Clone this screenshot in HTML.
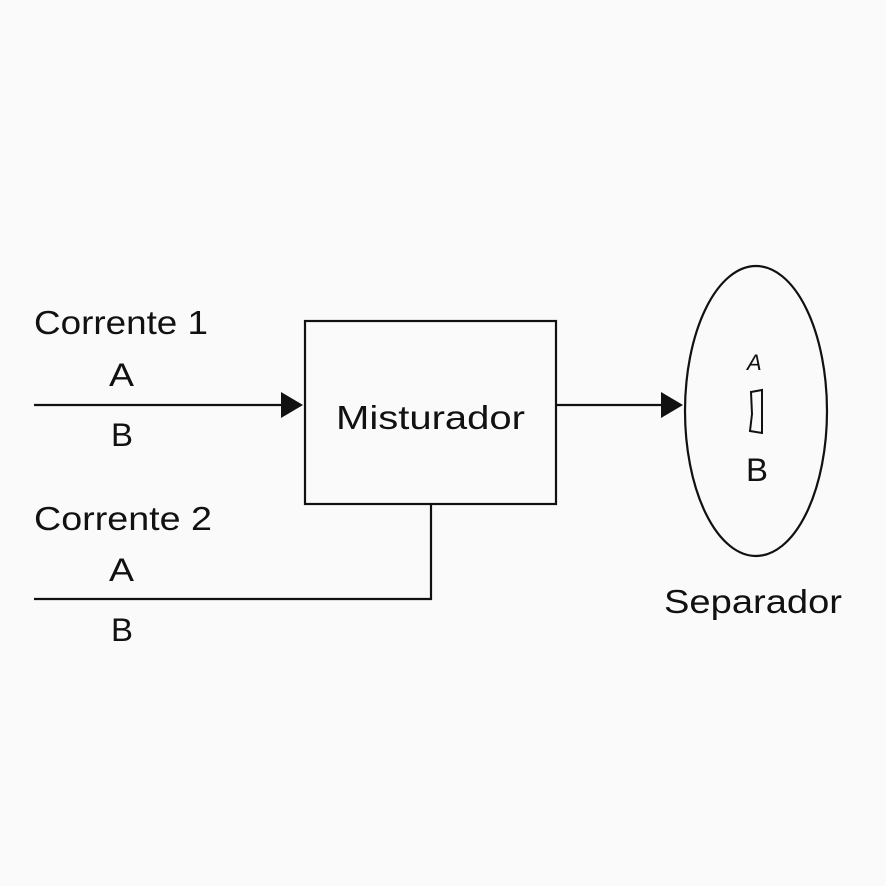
<!DOCTYPE html>
<html><head><meta charset="utf-8"><style>
html,body{margin:0;padding:0;background:#fafafa;}
svg{display:block;}
text{font-family:"Liberation Sans","DejaVu Sans",sans-serif;fill:#111;}
</style></head><body>
<svg width="886" height="886" viewBox="0 0 886 886" xmlns="http://www.w3.org/2000/svg">
<rect width="886" height="886" fill="#fafafa"/>
<g stroke="#111" stroke-width="2.2" fill="none">
<line x1="34" y1="405" x2="284" y2="405"/>
<rect x="305" y="321" width="251" height="183"/>
<polyline points="34,599 431,599 431,504"/>
<line x1="556" y1="405" x2="664" y2="405"/>
<ellipse cx="756" cy="411" rx="71" ry="145"/>
</g>
<polygon points="281,392 303,405 281,418" fill="#111"/>
<polygon points="661,392 683,405 661,418" fill="#111"/>
<g font-size="33">
<text x="34" y="334" textLength="174" lengthAdjust="spacingAndGlyphs">Corrente 1</text>
<text x="109" y="386" font-size="32" textLength="25" lengthAdjust="spacingAndGlyphs">A</text>
<text x="111" y="446" font-size="32" textLength="22" lengthAdjust="spacingAndGlyphs">B</text>
<text x="34" y="530" textLength="178" lengthAdjust="spacingAndGlyphs">Corrente 2</text>
<text x="109" y="581" font-size="32" textLength="25" lengthAdjust="spacingAndGlyphs">A</text>
<text x="111" y="641" font-size="32" textLength="22" lengthAdjust="spacingAndGlyphs">B</text>
<text x="336" y="429" textLength="189" lengthAdjust="spacingAndGlyphs">Misturador</text>
<text x="664" y="613" textLength="178" lengthAdjust="spacingAndGlyphs">Separador</text>
<text x="746" y="481" font-size="32" textLength="22" lengthAdjust="spacingAndGlyphs">B</text>
</g>
<text x="747" y="370" font-size="22" font-style="italic">A</text>
<path d="M751,392 L762,390 L762,433 L750,431 L752,414 Z" stroke="#111" stroke-width="2" fill="none"/>
</svg>
</body></html>
